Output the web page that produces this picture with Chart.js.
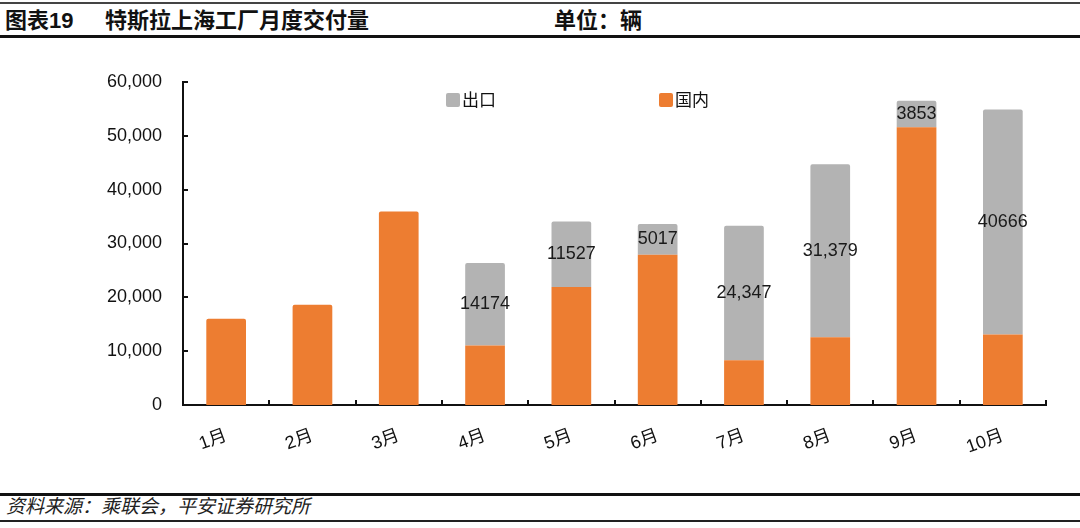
<!DOCTYPE html>
<html>
<head>
<meta charset="utf-8">
<script src="https://cdn.jsdelivr.net/npm/chart.js@4.4.1/dist/chart.umd.min.js"></script>
<style>
  body { margin: 0; background: #fff; }
  #page { position: relative; width: 1080px; height: 528px; overflow: hidden; font-family: "Liberation Sans", "Noto Sans CJK SC", sans-serif; color: #111; }
  .rule { position: absolute; left: 0; width: 1080px; background: #111; }
  .head { position: absolute; top: 9px; font-size: 22px; line-height: 24px; font-weight: bold; white-space: pre; }
  #source { position: absolute; top: 496px; left: 6px; font-size: 19px; line-height: 22px; font-style: italic; color: #222; }
  #myChart { position: absolute; top: 40px; left: 0; }
</style>
</head>
<body>
<div id="page">
  <div class="rule" style="top:2px;height:2px;background:#444;"></div>
  <div class="head" style="left:5px;">图表19</div>
  <div class="head" style="left:105px;">特斯拉上海工厂月度交付量</div>
  <div class="head" style="left:554px;">单位：辆</div>
  <div class="rule" style="top:35px;height:3px;"></div>
  <canvas id="myChart" width="1080" height="450"></canvas>
  <div class="rule" style="top:493px;height:3px;"></div>
  <div id="source">资料来源：乘联会，平安证券研究所</div>
  <div class="rule" style="top:520px;height:2px;background:#222;"></div>
</div>
<script>
'use strict';

let months = ['1月', '2月', '3月', '4月', '5月', '6月', '7月', '8月', '9月', '10月'];
let domestic = [16000, 18600, 35950, 11050, 21900, 27900, 8300, 12600, 51600, 13100];
let exports = [null, null, null, 15350, 12200, 5700, 25000, 32100, 4900, 41800];
let exportLabels = ['', '', '', '14174', '11527', '5017', '24,347', '31,379', '3853', '40666'];
let yTicks = [0, 10000, 20000, 30000, 40000, 50000, 60000];

let orange = '#ED7D31';
let grey = '#B3B3B3';
let fontFamily = '"Liberation Sans", "Noto Sans CJK SC", sans-serif';

// inward tick marks on both axes
let innerTicks = {
    id: 'innerTicks',
    afterDraw(chart) {
        let ctx = chart.ctx;
        let x = chart.scales.x;
        let y = chart.scales.y;
        let area = chart.chartArea;
        ctx.save();
        ctx.strokeStyle = '#111';
        ctx.lineWidth = 2;
        ctx.beginPath();
        for (let i = 0; i < yTicks.length; i++) {
            let py = Math.round(y.getPixelForValue(yTicks[i]));
            ctx.moveTo(area.left, py);
            ctx.lineTo(area.left + 5, py);
        }
        let step = x.getPixelForValue(1) - x.getPixelForValue(0);
        for (let i = 0; i <= months.length; i++) {
            let px = Math.round(x.getPixelForValue(i) - step / 2);
            ctx.moveTo(px, area.bottom);
            ctx.lineTo(px, area.bottom - 5);
        }
        ctx.stroke();
        ctx.restore();
    }
};

// value text in the middle of the grey segments
let segmentLabels = {
    id: 'segmentLabels',
    afterDatasetsDraw(chart) {
        let ctx = chart.ctx;
        let meta = chart.getDatasetMeta(1);
        ctx.save();
        ctx.font = '18px ' + fontFamily;
        ctx.fillStyle = '#1a1a1a';
        ctx.textAlign = 'center';
        ctx.textBaseline = 'middle';
        for (let i = 0; i < meta.data.length; i++) {
            if (!exportLabels[i]) continue;
            let bar = meta.data[i];
            ctx.fillText(exportLabels[i], bar.x, (bar.y + bar.base) / 2);
        }
        ctx.restore();
    }
};

// legend drawn inside the plot, grey first
let innerLegend = {
    id: 'innerLegend',
    afterDraw(chart) {
        let ctx = chart.ctx;
        let area = chart.chartArea;
        let items = [
            { text: chart.data.datasets[1].label, color: grey, x: area.left + 263 },
            { text: chart.data.datasets[0].label, color: orange, x: area.left + 476 }
        ];
        let cy = area.top + 18;
        ctx.save();
        ctx.font = '17px ' + fontFamily;
        ctx.textBaseline = 'middle';
        items.forEach(function (item) {
            ctx.fillStyle = item.color;
            ctx.beginPath();
            ctx.roundRect(item.x, cy - 7, 14, 14, 2);
            ctx.fill();
            ctx.fillStyle = '#111';
            ctx.fillText(item.text, item.x + 16, cy + 1);
        });
        ctx.restore();
    }
};

function chartRender() {
    let ctx = document.getElementById('myChart').getContext('2d');
    new Chart(ctx, {
        type: 'bar',
        data: {
            labels: months,
            datasets: [{
                label: '国内',
                data: domestic,
                backgroundColor: orange,
                borderRadius: 2,
                borderSkipped: 'bottom',
                barPercentage: 0.46,
                categoryPercentage: 1
            }, {
                label: '出口',
                data: exports,
                backgroundColor: grey,
                borderRadius: 2,
                borderSkipped: 'bottom',
                barPercentage: 0.46,
                categoryPercentage: 1
            }]
        },
        options: {
            responsive: false,
            animation: false,
            layout: {
                padding: { top: 42, right: 34, bottom: 0, left: 0 }
            },
            plugins: {
                legend: { display: false },
                tooltip: { enabled: false }
            },
            scales: {
                x: {
                    stacked: true,
                    grid: { display: false },
                    border: { display: true, color: '#111', width: 2 },
                    ticks: {
                        color: '#111',
                        font: { family: fontFamily, size: 18 },
                        maxRotation: 20,
                        minRotation: 20,
                        padding: 12
                    },
                    afterFit(scale) {
                        scale.height = 85;
                    }
                },
                y: {
                    stacked: true,
                    min: 0,
                    max: 60000,
                    grid: { display: false },
                    border: { display: true, color: '#111', width: 2 },
                    ticks: {
                        stepSize: 10000,
                        color: '#111',
                        padding: 13,
                        font: { family: fontFamily, size: 18 },
                        callback: function (value) {
                            return value.toLocaleString('en-US');
                        }
                    },
                    afterFit(scale) {
                        scale.width = 183;
                    }
                }
            }
        },
        plugins: [innerTicks, segmentLabels, innerLegend]
    });
}

chartRender();
</script>
</body>
</html>
